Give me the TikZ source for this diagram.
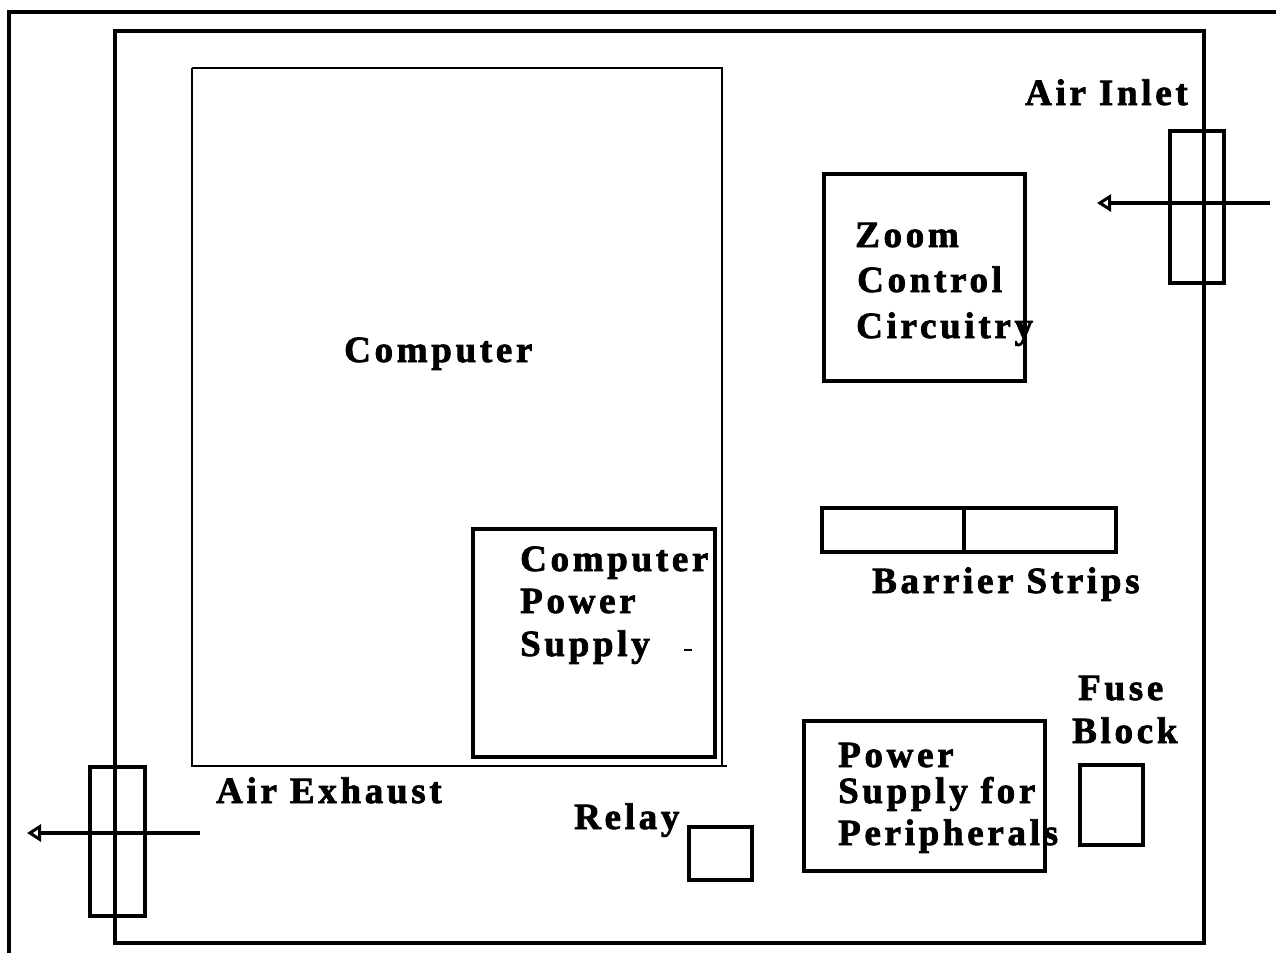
\documentclass[tikz,border=0pt]{standalone}
\usepackage{fontspec}
\newfontfamily\lblfont{Liberation Serif}[LetterSpace=10,FakeBold=2]
\usetikzlibrary{arrows.meta}
\begin{document}
\begin{tikzpicture}[x=1pt,y=-1pt,
  box/.style={line width=3.2pt},
  thinbox/.style={line width=2.2pt},
  lbl/.style={anchor=base west,inner sep=0pt,font=\lblfont\bfseries\fontsize{37}{44}\selectfont},
  flowtip/.style={line width=4pt,-{Triangle[open,length=14pt,width=17pt,line width=3pt]}}]
\useasboundingbox[fill=white] (0,0) rectangle (1276,953);
% outer and inner frames
\draw[line width=3.5pt] (1276,12) -- (9,12) -- (9,953);
\draw[box] (115,31) rectangle (1204,943);
% computer
\draw[thinbox] (192,68) -- (722,68) -- (722,766);
\draw[thinbox] (192,68) -- (192,766) -- (727,766);
\node[lbl] (comp) at (344,362) {Computer};
% computer power supply
\draw[line width=3.5pt] (473,529) rectangle (715,757);
\node[lbl] (cps1) at (520,571) {Computer};
\node[lbl] (cps2) at (520,613) {Power};
\node[lbl] (cps3) at (520,656) {Supply};
\draw[line width=1.5pt] (684,650) -- (692,650);
% zoom control
\draw[box] (824,174) rectangle (1025,381);
\node[lbl] (zc1) at (855,247) {Zoom};
\node[lbl] (zc2) at (857,292) {Control};
\node[lbl] (zc3) at (856,338) {Circuitry};
% air inlet
\node[lbl] (inlet) at (1025,105) {Air Inlet};
\draw[box] (1170,131) rectangle (1224,283);
\coordinate (inS) at (1270,203);
\coordinate (inE) at (1097,203);
\draw[flowtip] (inS) -- (inE);
% barrier strips
\draw[box] (822,508) rectangle (1116,552);
\draw[box] (964,508) -- (964,552);
\node[lbl] (bs) at (872,593) {Barrier Strips};
% fuse block
\node[lbl] (fb1) at (1078,700) {Fuse};
\node[lbl] (fb2) at (1072,743) {Block};
\draw[box] (1080,765) rectangle (1143,845);
% power supply for peripherals
\draw[box] (804,721) rectangle (1045,871);
\node[lbl] (psp1) at (838,767) {Power};
\node[lbl] (psp2) at (838,803) {Supply for};
\node[lbl] (psp3) at (838,845) {Peripherals};
% relay
\node[lbl] (relay) at (574,829) {Relay};
\draw[box] (689,827) rectangle (752,880);
% air exhaust
\node[lbl] (exh) at (216,803) {Air Exhaust};
\draw[box] (90,767) rectangle (145,916);
\coordinate (exS) at (200,833);
\coordinate (exE) at (27,833);
\draw[flowtip] (exS) -- (exE);
\end{tikzpicture}
\end{document}
